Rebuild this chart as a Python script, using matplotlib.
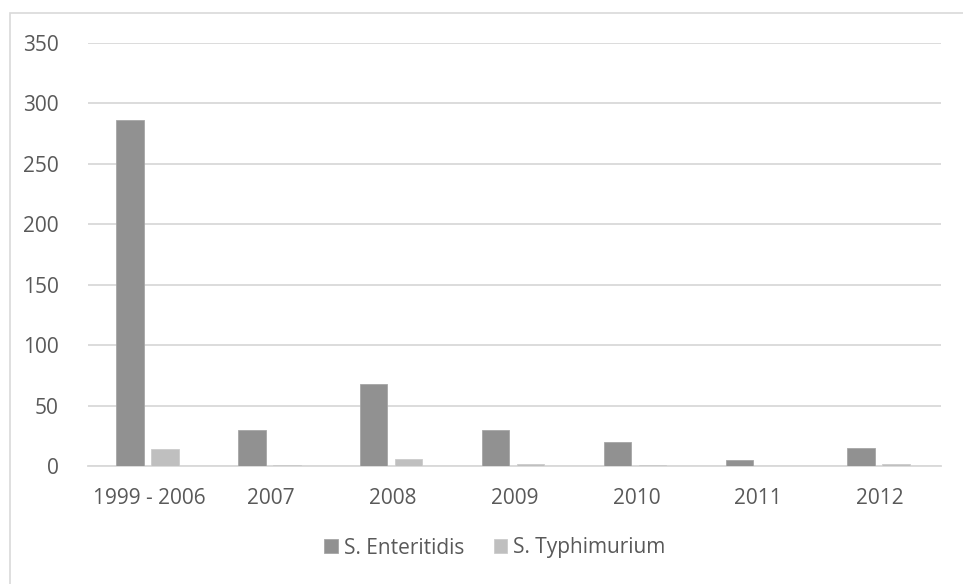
import matplotlib.pyplot as plt
import numpy as np
from matplotlib.patches import Rectangle

plt.rcParams['font.family'] = ['Open Sans', 'DejaVu Sans']

categories = ['1999 - 2006', '2007', '2008', '2009', '2010', '2011', '2012']
enteritidis = [286, 30, 68, 30, 20, 5, 15]
typhimurium = [14, 1, 6, 2, 1, 0, 2]

fig = plt.figure(figsize=(9.63, 5.84), dpi=100)
# outer chart border: only left and top edges fall inside the image
fig.patches.append(Rectangle((10 / 963, -10 / 584), 1000 / 963, 581 / 584,
                             transform=fig.transFigure, fill=False,
                             edgecolor='#d9d9d9', linewidth=1.2))
ax = fig.add_axes([88 / 963, 118 / 584, 853 / 963, 423 / 584])

x = np.arange(len(categories))
w = 0.225
gap = 0.062
ax.bar(x - (w + gap) / 2 - 0.012, enteritidis, w, color='#919191',
       edgecolor='#a6a6a6', linewidth=0.6, label='S. Enteritidis', zorder=3)
ax.bar(x + (w + gap) / 2 - 0.012, typhimurium, w, color='#bfbfbf',
       edgecolor='#cccccc', linewidth=0.6, label='S. Typhimurium', zorder=3)

ax.set_xlim(-0.5, len(categories) - 0.5)
ax.set_ylim(0, 350)
ax.set_yticks(np.arange(0, 351, 50))
ax.set_xticks(x)
ax.set_xticklabels(categories)
ax.grid(axis='y', color='#d9d9d9', linewidth=1.3, zorder=0)
for s in ['top', 'right', 'left']:
    ax.spines[s].set_visible(False)
ax.spines['bottom'].set_color('#d9d9d9')
ax.spines['bottom'].set_linewidth(1.3)
ax.tick_params(length=0, labelsize=15, labelcolor='#595959')
ax.tick_params(axis='y', pad=21)
ax.tick_params(axis='x', pad=16)

ax.legend(loc='center', bbox_to_anchor=(495 / 963, 36 / 584),
          bbox_transform=fig.transFigure, ncol=2, frameon=False,
          fontsize=15, labelcolor='#595959', handlelength=0.65,
          handleheight=0.65, handletextpad=0.3, columnspacing=1.4)

plt.savefig('out.png', dpi=100)
